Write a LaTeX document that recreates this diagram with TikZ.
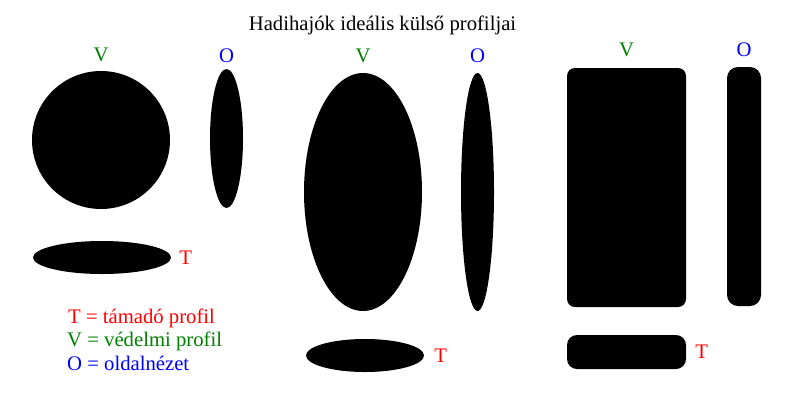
\documentclass[tikz,border=0pt]{standalone}
\usepackage{fontspec}
\setmainfont{Liberation Serif}
\usepackage{xcolor}
\usetikzlibrary{shapes.geometric,positioning}
\definecolor{tcol}{RGB}{255,0,0}
\definecolor{vcol}{RGB}{0,128,0}
\definecolor{ocol}{RGB}{0,0,255}
\tikzstyle{txt} = [inner sep=0pt, font=\fontsize{20.7}{24}\selectfont]
\tikzstyle{roundshape} = [ellipse, fill=black, inner sep=0pt]
\tikzstyle{boxshape} = [rectangle, fill=black, inner sep=0pt]
\tikzstyle{tlabel} = [txt, text=tcol]
\tikzstyle{vlabel} = [txt, text=vcol]
\tikzstyle{olabel} = [txt, text=ocol]

\begin{document}
\begin{tikzpicture}[x=1pt,y=-1pt]
        \useasboundingbox (0,0) rectangle (800,400);
        \node (title) [txt, anchor=base] at (382.5,30) {Hadihajók ideális külső profiljai};
        % first group: circle
        \node (v1) [roundshape, minimum width=138pt, minimum height=138pt] at (101,140) {};
        \node (o1) [roundshape, minimum width=33pt, minimum height=139pt] at (226.5,138.5) {};
        \node (t1) [roundshape, minimum width=138pt, minimum height=33pt] at (102,257.5) {};
        \node (v1l) [vlabel, above=9pt of v1] {V};
        \node (o1l) [olabel, above=6pt of o1] {O};
        \node (t1l) [tlabel, right=8pt of t1] {T};
        % second group: ellipse
        \node (v2) [roundshape, minimum width=118pt, minimum height=238pt] at (363,192) {};
        \node (o2) [roundshape, minimum width=33pt, minimum height=238pt] at (477.5,192) {};
        \node (t2) [roundshape, minimum width=118pt, minimum height=33pt] at (365,355.5) {};
        \node (v2l) [vlabel, above=10pt of v2] {V};
        \node (o2l) [olabel, above=10pt of o2] {O};
        \node (t2l) [tlabel, right=10pt of t2] {T};
        % third group: boxes
        \node (v3) [boxshape, rounded corners=8pt, minimum width=119pt, minimum height=239pt] at (626.5,187.5) {};
        \node (o3) [boxshape, rounded corners=11pt, minimum width=34pt, minimum height=239pt] at (744,186.5) {};
        \node (t3) [boxshape, rounded corners=10pt, minimum width=119pt, minimum height=34pt] at (626.5,352) {};
        \node (v3l) [vlabel, above=11pt of v3] {V};
        \node (o3l) [olabel, above=10pt of o3] {O};
        \node (t3l) [tlabel, right=9pt of t3] {T};
        % legend
        \node (legt) [tlabel, anchor=base west] at (68,323) {T = támadó profil};
        \node (legv) [vlabel, anchor=base west] at (67,346.5) {V = védelmi profil};
        \node (lego) [olabel, anchor=base west] at (67,370) {O = oldalnézet};
    \end{tikzpicture}
\end{document}
